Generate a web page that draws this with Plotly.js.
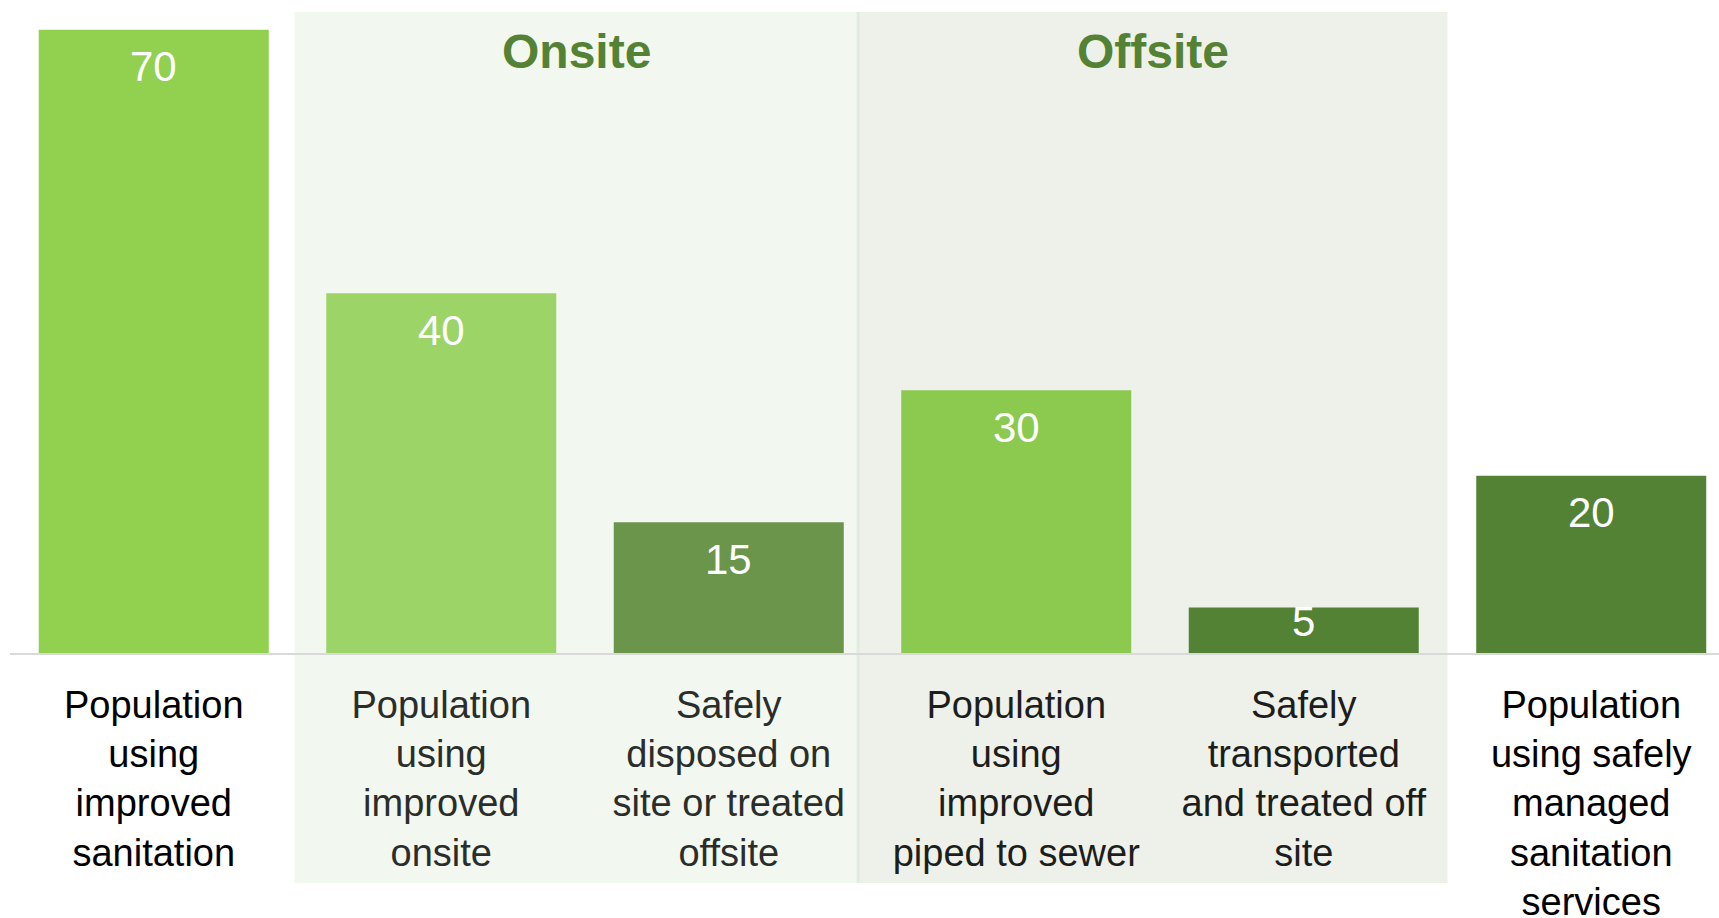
<!DOCTYPE html>
<html>
<head>
<meta charset="utf-8">
<script src="https://cdn.plot.ly/plotly-3.0.1.min.js"></script>
<style>
  html, body { margin: 0; padding: 0; background: #ffffff; }
  #chart { width: 1719px; height: 918px; }
</style>
</head>
<body>
<div id="chart"></div>
<script>
// ---- data ----
const categoryLines = [
  ["Population", "using", "improved", "sanitation"],
  ["Population", "using", "improved", "onsite"],
  ["Safely", "disposed on", "site or treated", "offsite"],
  ["Population", "using", "improved", "piped to sewer"],
  ["Safely", "transported", "and treated off", "site"],
  ["Population", "using safely", "managed", "sanitation", "services"]
];
const values = [70, 40.4, 14.7, 29.5, 5.1, 19.9];
const valueLabels = ["70", "40", "15", "30", "5", "20"];
const groupNames = ["Onsite", "Offsite"];

// ---- styles ----
const barColors = ["#92d050", "#9dd468", "#6a954b", "#8bc94f", "#548235", "#548235"];
const labelColors = ["#000000", "#2a2d29", "#2a2d29", "#1c1e1b", "#1c1e1b", "#000000"];
const FONT = "'Liberation Sans', Arial, Helvetica, sans-serif";

const xIdx = values.map((_, i) => i);
const tickText = categoryLines.map((lines, i) =>
  lines.map(l => `<span style="color:${labelColors[i]}">${l}</span>`).join("<br>")
);

const yMax = 72;
const plotH = 918 - 12 - 265;
const pxPerUnit = plotH / yMax;

const valueAnnotations = values.map((v, i) => {
  const hPx = v * pxPerUnit;
  return {
    x: i, y: v, xref: "x", yref: "y",
    text: valueLabels[i],
    showarrow: false,
    yanchor: "middle",
    yshift: -Math.min(37, hPx - 32),
    font: { family: FONT, size: 42, color: "#ffffff" }
  };
});

const panelX = [[0.49, 2.45], [2.45, 4.5]];
const panelFill = ["#f2f7f0", "#eef1ea"];

const titleAnnotations = groupNames.map((g, k) => ({
  x: (panelX[k][0] + panelX[k][1]) / 2, y: 0.938,
  xref: "x", yref: "paper",
  text: "<b>" + g + "</b>",
  showarrow: false,
  yanchor: "middle",
  font: { family: FONT, size: 48, color: "#548235" }
}));

const shapes = panelX.map((p, k) => ({
  type: "rect", xref: "x", yref: "paper",
  x0: p[0], x1: p[1], y0: -(883 - 653) / plotH, y1: 1,
  fillcolor: panelFill[k], line: { width: 0 }, layer: "below"
}));
shapes.push({
  type: "line", xref: "x", yref: "paper",
  x0: panelX[0][1], x1: panelX[0][1], y0: -(883 - 653) / plotH, y1: 1,
  line: { color: "#e2ebdf", width: 3 }, layer: "below"
});

const trace = {
  type: "bar",
  x: xIdx,
  y: values,
  marker: { color: barColors, line: { width: 0 } },
  hoverinfo: "none"
};

const layout = {
  width: 1719, height: 918,
  margin: { l: 10, r: 0, t: 12, b: 265, pad: 0 },
  paper_bgcolor: "#ffffff",
  plot_bgcolor: "rgba(0,0,0,0)",
  showlegend: false,
  bargap: 0.2,
  xaxis: {
    range: [-0.5, -0.5 + 1709 / 287.5],
    tickmode: "array",
    tickvals: xIdx,
    ticktext: tickText,
    tickfont: { family: FONT, size: 38, color: "#000000" },
    ticks: "",
    ticklabelstandoff: 17,
    showgrid: false,
    zeroline: false,
    showline: true,
    linecolor: "#d9d9d9",
    linewidth: 2,
    fixedrange: true,
    automargin: false
  },
  yaxis: {
    range: [0, yMax],
    visible: false,
    showgrid: false,
    zeroline: false,
    fixedrange: true
  },
  shapes: shapes,
  annotations: valueAnnotations.concat(titleAnnotations)
};

Plotly.newPlot("chart", [trace], layout, { displayModeBar: false, staticPlot: true });
</script>
</body>
</html>
